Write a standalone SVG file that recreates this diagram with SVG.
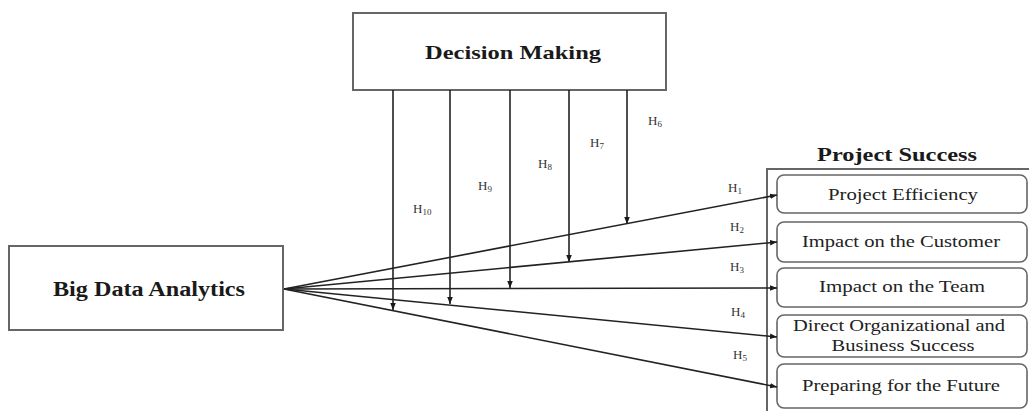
<svg xmlns="http://www.w3.org/2000/svg" width="1029" height="411" viewBox="0 0 1029 411">
<defs>
<marker id="ah" viewBox="0 0 10 10" refX="10" refY="5" markerWidth="7" markerHeight="7" markerUnits="userSpaceOnUse" orient="auto">
<path d="M0,1 L10,5 L0,9 Z" fill="#1a1a1a"/>
</marker>
<style>
.box{fill:#fff;stroke:#666;stroke-width:2}
.rbox{fill:#fff;stroke:#666;stroke-width:1.6}
.title{font-family:"Liberation Serif",serif;font-weight:bold;fill:#1a1a1a;text-anchor:middle}
.item{font-family:"Liberation Serif",serif;font-size:16px;fill:#222;text-anchor:middle}
.h{font-family:"Liberation Serif",serif;font-size:13px;fill:#333}
.sub{font-size:9px}
.conn line{stroke:#222;stroke-width:1.6;marker-end:url(#ah)}
</style>
</defs>
<rect width="1029" height="411" fill="#fff"/>

<g id="decision-making">
<rect class="box" x="353" y="13" width="313" height="77"/>
<text class="title" x="513" y="59" font-size="19" textLength="176" lengthAdjust="spacingAndGlyphs">Decision Making</text>
</g>

<g id="big-data-analytics">
<rect class="box" x="9" y="246" width="274" height="84"/>
<text class="title" x="149" y="296" font-size="20" textLength="192" lengthAdjust="spacingAndGlyphs">Big Data Analytics</text>
</g>

<g id="project-success">
<rect class="box" x="767" y="169" width="270" height="260"/>
<text class="title" x="897" y="161" font-size="18" textLength="160" lengthAdjust="spacingAndGlyphs">Project Success</text>
</g>

<g id="project-efficiency">
<rect class="rbox" x="777" y="175" width="250" height="38" rx="7"/>
<text class="item" x="903" y="200" textLength="150" lengthAdjust="spacingAndGlyphs">Project Efficiency</text>
</g>
<g id="impact-customer">
<rect class="rbox" x="777" y="222" width="250" height="40" rx="7"/>
<text class="item" x="901" y="247" textLength="198" lengthAdjust="spacingAndGlyphs">Impact on the Customer</text>
</g>
<g id="impact-team">
<rect class="rbox" x="777" y="268" width="250" height="39" rx="7"/>
<text class="item" x="902" y="292" textLength="166" lengthAdjust="spacingAndGlyphs">Impact on the Team</text>
</g>
<g id="direct-success">
<rect class="rbox" x="777" y="315" width="250" height="42" rx="7"/>
<text class="item" x="899" y="331" textLength="212" lengthAdjust="spacingAndGlyphs">Direct Organizational and</text>
<text class="item" x="903" y="351" textLength="143" lengthAdjust="spacingAndGlyphs">Business Success</text>
</g>
<g id="preparing-future">
<rect class="rbox" x="777" y="364" width="250" height="44" rx="7"/>
<text class="item" x="901" y="391" textLength="198" lengthAdjust="spacingAndGlyphs">Preparing for the Future</text>
</g>

<g id="connectors" class="conn">
<line x1="284" y1="289" x2="777" y2="195"/>
<line x1="284" y1="289" x2="777" y2="242"/>
<line x1="284" y1="289" x2="777" y2="288"/>
<line x1="284" y1="289" x2="777" y2="337"/>
<line x1="284" y1="289" x2="777" y2="387"/>
<line x1="393" y1="90" x2="393" y2="310"/>
<line x1="450" y1="90" x2="450" y2="304"/>
<line x1="510" y1="90" x2="510" y2="288"/>
<line x1="569" y1="90" x2="569" y2="262"/>
<line x1="627" y1="90" x2="627" y2="224"/>
</g>

<g id="labels">
<text class="h" x="728" y="192">H<tspan class="sub" dy="2">1</tspan></text>
<text class="h" x="730" y="231">H<tspan class="sub" dy="2">2</tspan></text>
<text class="h" x="730" y="271">H<tspan class="sub" dy="2">3</tspan></text>
<text class="h" x="731" y="316">H<tspan class="sub" dy="2">4</tspan></text>
<text class="h" x="733" y="359">H<tspan class="sub" dy="2">5</tspan></text>
<text class="h" x="648" y="125">H<tspan class="sub" dy="2">6</tspan></text>
<text class="h" x="590" y="147">H<tspan class="sub" dy="2">7</tspan></text>
<text class="h" x="538" y="168">H<tspan class="sub" dy="2">8</tspan></text>
<text class="h" x="478" y="190">H<tspan class="sub" dy="2">9</tspan></text>
<text class="h" x="413" y="213">H<tspan class="sub" dy="2">10</tspan></text>
</g>
</svg>
